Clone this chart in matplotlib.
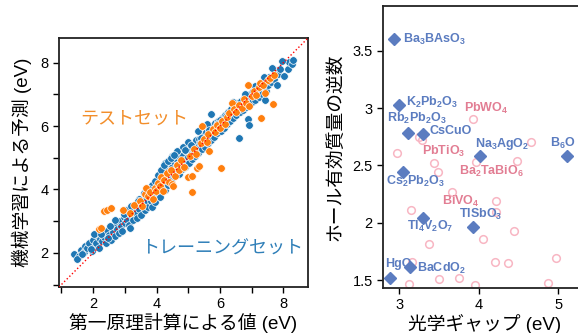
import matplotlib
matplotlib.use("Agg")
import matplotlib.pyplot as plt
from matplotlib.ticker import FormatStrFormatter, MultipleLocator

plt.rcParams['font.family'] = ['Liberation Sans', 'Noto Sans CJK JP']
plt.rcParams['mathtext.fontset'] = 'custom'
plt.rcParams['mathtext.rm'] = 'Liberation Sans'
plt.rcParams['mathtext.default'] = 'regular'

# 左: 第一原理計算 vs 機械学習 (トレーニングセット)
train_x = [1.40, 1.56, 1.62, 1.70, 1.75, 1.82, 1.88, 1.95, 2.00, 2.05, 2.10, 2.12, 2.18, 2.22, 2.28,
           2.30, 2.35, 2.40, 2.45, 2.50, 2.55, 2.58, 2.62, 2.68, 2.72, 2.75, 2.80, 2.84, 2.88, 2.92,
           2.96, 3.00, 3.04, 3.08, 3.12, 3.16, 3.18, 3.22, 3.26, 3.30, 3.34, 3.38, 3.42, 3.46, 3.50,
           3.54, 3.58, 3.62, 3.66, 3.70, 3.74, 3.78, 3.82, 3.85, 3.88, 3.92, 3.96, 4.00, 4.04, 4.08,
           4.10, 4.14, 4.18, 4.20, 4.22, 4.26, 4.30, 4.32, 4.36, 4.40, 4.42, 4.46, 4.50, 4.52, 4.56,
           4.60, 4.62, 4.66, 4.70, 4.72, 4.76, 4.80, 4.84, 4.86, 4.90, 4.94, 4.98, 5.02, 5.05, 5.08,
           5.12, 5.15, 5.18, 5.22, 5.25, 5.28, 5.32, 5.35, 5.38, 5.42, 5.45, 5.48, 5.52, 5.55, 5.58,
           5.62, 5.65, 5.68, 5.71, 5.72, 5.75, 5.78, 5.82, 5.85, 5.88, 5.92, 5.95, 5.98, 6.02, 6.05,
           6.08, 6.12, 6.15, 6.18, 6.22, 6.25, 6.28, 6.32, 6.35, 6.38, 6.42, 6.45, 6.48, 6.52, 6.55,
           6.58, 6.61, 6.62, 6.65, 6.68, 6.72, 6.75, 6.78, 6.82, 6.85, 6.87, 6.88, 6.92, 6.92, 6.95,
           6.98, 7.02, 7.05, 7.08, 7.12, 7.15, 7.18, 7.22, 7.25, 7.28, 7.32, 7.35, 7.38, 7.43, 7.45,
           7.48, 7.52, 7.55, 7.60, 7.66, 7.70, 7.75, 7.81, 7.82, 7.90, 8.03, 8.16, 8.18, 8.26, 8.29,
           1.48, 2.02, 2.52, 3.05, 3.45, 3.85, 4.28, 4.48, 4.64, 4.82, 5.00, 5.30, 5.60, 6.00, 6.40,
           1.66, 1.92, 2.26, 2.48, 2.70, 2.98, 3.20, 3.40, 3.60, 3.76, 3.94, 4.05, 4.15, 4.25, 4.35,
           4.45, 4.55, 4.68, 4.90, 5.10, 5.40, 5.65, 5.90, 6.20, 6.50, 6.80, 7.10, 7.40, 7.65, 7.95]
train_y = [1.97, 1.90, 2.10, 2.02, 2.22, 2.15, 2.30, 2.05, 2.40, 2.20, 2.32, 2.55, 2.15, 2.45, 2.38,
           2.62, 2.50, 2.30, 2.70, 2.55, 2.42, 2.80, 2.66, 2.52, 2.90, 2.75, 2.62, 3.00, 2.85, 2.70,
           3.12, 2.95, 3.20, 3.05, 2.88, 2.78, 3.30, 3.15, 3.02, 3.42, 3.25, 3.10, 3.55, 3.38, 3.20,
           3.62, 3.48, 3.35, 3.72, 3.58, 3.45, 3.85, 3.65, 3.44, 3.95, 3.78, 3.60, 4.10, 3.90, 4.25,
           3.75, 4.05, 4.40, 4.55, 4.20, 3.98, 4.65, 4.35, 4.15, 4.80, 4.50, 4.28, 4.70, 4.90, 4.45,
           4.62, 4.95, 4.78, 4.50, 5.05, 4.85, 4.65, 5.10, 4.92, 4.72, 5.20, 5.02, 4.85, 5.30, 5.12,
           4.95, 5.40, 5.22, 5.05, 5.55, 5.35, 5.15, 5.60, 5.45, 5.28, 5.70, 5.52, 5.35, 5.80, 5.62,
           5.45, 5.90, 5.72, 6.37, 5.55, 6.00, 5.82, 5.65, 6.10, 5.92, 5.78, 6.15, 6.02, 5.85, 6.25,
           6.10, 5.95, 6.35, 6.20, 6.05, 6.45, 6.30, 6.15, 6.55, 6.40, 6.25, 6.62, 6.50, 6.35, 6.72,
           6.58, 5.62, 6.45, 6.80, 6.65, 6.52, 6.88, 6.72, 6.60, 6.95, 6.21, 6.80, 6.03, 6.68, 7.02,
           6.88, 6.75, 7.10, 6.95, 6.82, 7.18, 7.05, 6.92, 7.28, 7.15, 7.02, 7.38, 7.25, 6.82, 7.12,
           7.45, 7.30, 7.55, 7.40, 7.79, 7.50, 7.72, 7.28, 7.65, 7.80, 7.58, 7.81, 8.02, 7.95, 8.08,
           1.80, 2.60, 2.85, 3.35, 3.70, 4.15, 4.85, 5.05, 5.20, 5.35, 5.50, 5.85, 6.05, 6.20, 6.75,
           1.95, 2.12, 2.58, 2.48, 3.02, 3.22, 3.48, 3.62, 3.90, 4.02, 4.28, 4.45, 4.62, 4.78, 4.90,
           5.00, 5.10, 4.60, 5.25, 5.40, 5.62, 5.88, 6.05, 6.32, 6.68, 7.00, 7.25, 7.55, 7.82, 8.05]

# 左: テストセット
test_x = [2.19, 2.25, 2.35, 2.45, 2.56, 2.95, 3.15, 3.30, 3.48, 3.55, 3.62, 3.66, 3.72, 3.80, 3.88,
          3.95, 3.98, 4.05, 4.10, 4.15, 4.19, 4.25, 4.32, 4.38, 4.45, 4.50, 4.53, 4.58, 4.65, 4.70,
          4.78, 4.85, 5.00, 5.05, 5.11, 5.13, 5.18, 5.25, 5.29, 5.34, 5.40, 5.43, 5.50, 5.58, 5.62,
          5.66, 5.78, 5.85, 5.92, 6.00, 6.03, 6.08, 6.15, 6.22, 6.30, 6.39, 6.45, 6.52, 6.60, 6.68,
          6.75, 6.82, 6.87, 6.92, 7.00, 7.08, 7.15, 7.22, 7.27, 7.29, 7.35, 7.42, 7.50, 7.58, 7.66,
          7.70]
test_y = [2.75, 2.78, 3.32, 3.36, 3.40, 3.35, 3.25, 3.50, 3.62, 3.48, 3.85, 4.03, 3.78, 3.92, 3.70,
          4.05, 3.96, 4.20, 4.10, 4.38, 3.94, 4.30, 4.52, 4.22, 4.60, 4.17, 4.12, 4.42, 4.78, 4.62,
          4.92, 4.70, 4.38, 5.05, 3.91, 4.43, 5.28, 5.12, 4.69, 4.75, 5.45, 6.00, 5.58, 5.50, 5.75,
          5.20, 5.90, 5.80, 6.02, 5.95, 4.69, 6.15, 6.08, 6.28, 6.40, 6.74, 6.55, 6.45, 6.68, 6.58,
          6.85, 6.72, 7.31, 6.62, 6.95, 7.12, 6.98, 7.22, 7.37, 6.25, 7.28, 7.05, 7.45, 7.52, 6.71,
          7.60]

# 右: 光学ギャップ vs ホール有効質量の逆数
cand_names = ['Ba$_3$BAsO$_3$', 'K$_2$Pb$_2$O$_3$', 'Rb$_2$Pb$_2$O$_3$', 'CsCuO', 'Na$_3$AgO$_2$',
              'B$_6$O', 'Cs$_2$Pb$_2$O$_3$', 'Tl$_4$V$_2$O$_7$', 'TlSbO$_3$', 'HgO', 'BaCdO$_2$']
cand_gap = [2.94, 3.00, 3.11, 3.30, 4.02, 5.11, 3.05, 3.30, 3.93, 2.885, 3.14]
cand_inv = [3.60, 3.03, 2.78, 2.77, 2.58, 2.58, 2.44, 2.04, 1.96, 1.52, 1.61]
cand_lab_x = [3.05, 3.08, 2.85, 3.38, 3.955, 4.90, 2.835, 3.10, 3.75, 2.82, 3.23]
cand_lab_y = [3.60, 3.045, 2.905, 2.80, 2.687, 2.687, 2.364, 1.97, 2.076, 1.64, 1.605]

other_gap = [3.93, 3.25, 3.29, 4.65, 2.97, 3.44, 3.97, 4.48, 3.49, 3.66, 4.22, 3.15, 4.22, 4.44,
             4.05, 3.37, 3.16, 4.20, 4.37, 4.97, 3.50, 3.75, 3.13, 3.955, 4.87]
other_inv = [2.905, 2.745, 2.72, 2.70, 2.606, 2.52, 2.53, 2.54, 2.445, 2.27, 2.19, 2.108, 2.09, 1.93,
             1.855, 1.81, 1.66, 1.66, 1.645, 1.69, 1.506, 1.515, 1.465, 1.456, 1.476]
other_names = ['PbWO$_4$', 'PbTiO$_3$', 'Ba$_2$TaBiO$_6$', 'BiVO$_4$']
other_lab_x = [3.815, 3.293, 3.752, 3.535]
other_lab_y = [3.0, 2.617, 2.451, 2.189]

blue = '#5b7cc0'
pink_txt = '#e27d93'
pink_mk = '#f8b6c3'

fig = plt.figure(figsize=(5.78, 3.33), dpi=100)

ax1 = fig.add_axes([0.102, 0.138, 0.431, 0.748])
ax1.scatter(train_x, train_y, s=30, color='#1f77b4', edgecolor='white', linewidth=0.5, zorder=2)
ax1.scatter(test_x, test_y, s=30, color='#ff7f0e', edgecolor='white', linewidth=0.5, zorder=3)
lim = (0.92, 8.78)
ax1.plot(lim, lim, color='red', ls=':', lw=1, zorder=4)
ax1.set_xlim(lim)
ax1.set_ylim(lim)
ax1.xaxis.set_major_locator(MultipleLocator(2))
ax1.yaxis.set_major_locator(MultipleLocator(2))
ax1.xaxis.set_minor_locator(MultipleLocator(1))
ax1.yaxis.set_minor_locator(MultipleLocator(1))
ax1.tick_params(which='both', length=4, width=1, labelsize=10.5)
ax1.set_xlabel('第一原理計算による値 (eV)', fontsize=13.5, labelpad=1)
ax1.set_ylabel('機械学習による予測 (eV)', fontsize=13.5, labelpad=6)
ax1.text(0.52, 0.675, 'テストセット', transform=ax1.transAxes, color='#f28e2b',
         fontsize=13, ha='right', va='center', family=['Noto Sans CJK JP'])
ax1.text(0.98, 0.155, 'トレーニングセット', transform=ax1.transAxes, color='#2f7fb8',
         fontsize=13, ha='right', va='center', family=['Noto Sans CJK JP'])

ax2 = fig.add_axes([0.663, 0.135, 0.35, 0.847])
ax2.plot(other_gap, other_inv, 'o', ms=5.5, mfc='none', mec=pink_mk, mew=1.1, zorder=2)
ax2.plot(cand_gap, cand_inv, 'D', ms=6.5, color=blue, mec=blue, zorder=3)
for n, x, y in zip(cand_names, cand_lab_x, cand_lab_y):
    ax2.text(x, y, n, color=blue, fontsize=9, va='center', ha='left', fontweight='bold')
for n, x, y in zip(other_names, other_lab_x, other_lab_y):
    ax2.text(x, y, n, color=pink_txt, fontsize=9, va='center', ha='left', fontweight='bold')
ax2.set_xlim(2.80, 5.34)
ax2.set_ylim(1.43, 3.89)
ax2.xaxis.set_major_locator(MultipleLocator(1))
ax2.yaxis.set_major_locator(MultipleLocator(0.5))
ax2.yaxis.set_major_formatter(FormatStrFormatter('%g'))
ax2.tick_params(length=4, width=1, labelsize=10.5)
ax2.set_xlabel('光学ギャップ (eV)', fontsize=13.5, labelpad=1)
ax2.set_ylabel('ホール有効質量の逆数', fontsize=13.5, labelpad=6)

for ax in (ax1, ax2):
    for sp in ax.spines.values():
        sp.set_linewidth(1.3)
        sp.set_color('#222222')

fig.savefig('out.png', dpi=100)
